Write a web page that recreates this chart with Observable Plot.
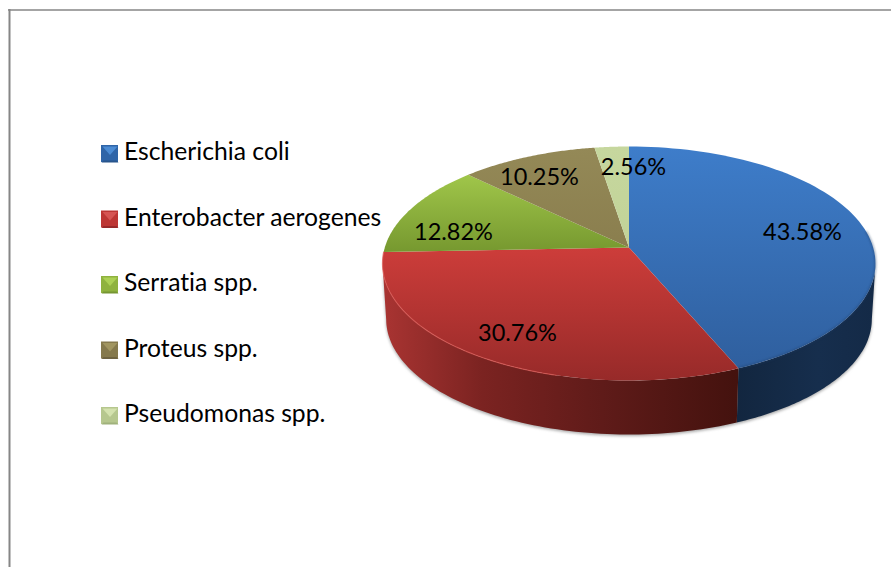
<!DOCTYPE html>
<html>
<head>
<meta charset="utf-8">
<style>html,body{margin:0;padding:0;background:#fff}svg{display:block}svg text{font-variant-ligatures:none}</style>
<script src="https://cdn.jsdelivr.net/npm/d3@7"></script>
<script src="https://cdn.jsdelivr.net/npm/@observablehq/plot@0.6"></script>
</head>
<body>
<div id="chart"></div>
<script>
// ---- data ----
const categories = ["Escherichia coli","Enterobacter aerogenes","Serratia spp.","Proteus spp.","Pseudomonas spp."];
const percents = [43.58,30.76,12.82,10.25,2.56];
const percentLabels = ["43.58%","30.76%","12.82%","10.25%","2.56%"];

// ---- layout & style ----
const labelX = [802,517,453,539,633];
const labelY = [232,333,232,177,167];
const topStops = [["#3e7dca","#2f5f9e"],["#cd3d3a","#972a29"],["#a0c64a","#76982f"],["#948957","#8a7e4e"],["#c6d79e","#c2d398"]];
const markerBase = ["#2f65a8","#bd3634","#8fb23e","#85794c","#b6c78e"];
const markerLight = ["#4c8cd4","#d65553","#acd054","#a19560","#d4e2ae"];
const markerDark = ["#28558c","#97292a","#769632","#6e6341","#a0b27c"];
const cx = 628.5, cy = 247, a = 244.2, b = 114.8, k = 0.1367;
const depth = {cy: 303, s: 0.985};
const legendX = 101, legendY0 = 145, legendStep = 65.5, markerSize = 17;

// ---- geometry ----
const total = d3.sum(percents);
const cum = d3.cumsum(percents);
const angleAt = f => f / total * 2 * Math.PI;
function topPt(th){const w=1+k*Math.cos(th);return {x:cx+a*Math.sin(th)/w,y:cy-b*Math.cos(th)/w};}
function botPt(th){const w=1+k*Math.cos(th);return {x:cx+depth.s*a*Math.sin(th)/w,y:depth.cy-depth.s*b*Math.cos(th)/w};}
function arc(f,t0,t1,n=80){return d3.range(n+1).map(i=>f(t0+(t1-t0)*i/n));}
const starts = percents.map((_,i)=>i?angleAt(cum[i-1]):0);
const ends = percents.map((_,i)=>i===percents.length-1?2*Math.PI:angleAt(cum[i]));
const slices = percents.map((_,i)=>[{x:cx,y:cy},...arc(topPt,starts[i],ends[i])]);
const rad = Math.PI/180;
const silR = 98*rad, silL = 262*rad;
const sideBlue = [...arc(topPt,silR,ends[0]),...arc(botPt,ends[0],silR)];
const sideRed = [...arc(topPt,ends[0],silL),...arc(botPt,silL,ends[0])];
const shadow = [...arc(topPt,silR,silL,120),...arc(botPt,silL,silR,120)].map(p=>({x:p.x,y:p.y+1.5}));
const rimRed = arc(topPt,195*rad,ends[1]);
const rimBlue = arc(topPt,82*rad,ends[0]);

const markerPolys = categories.flatMap((_,i)=>{
  const x0=legendX,x1=legendX+markerSize,y0=legendY0+i*legendStep,y1=y0+markerSize,mx=(x0+x1)/2,my=(y0+y1)/2;
  return [
    {fill:markerLight[i],pts:[{x:x0+1,y:y0+1},{x:x1-1,y:y0+1},{x:mx,y:my+1}]},
    {fill:markerDark[i],pts:[{x:x0,y:y1},{x:x1,y:y1},{x:x1-2,y:y1-2},{x:x0+2,y:y1-2}]}
  ];
});
const legendRows = categories.map((c,i)=>({c,i}));

const poly = (pts,o)=>Plot.line(pts,{x:"x",y:"y",stroke:"none",...o});
const fontFamily = "Lato, Carlito, sans-serif";

const defs = () => {
  const ns="http://www.w3.org/2000/svg";
  const d=document.createElementNS(ns,"defs");
  const grad=(id,stops,attrs)=>{
    const g=document.createElementNS(ns,"linearGradient");
    g.setAttribute("id",id);
    Object.entries(attrs).forEach(([k,v])=>g.setAttribute(k,v));
    stops.forEach(([o,c])=>{const s=document.createElementNS(ns,"stop");s.setAttribute("offset",o);s.setAttribute("stop-color",c);g.appendChild(s);});
    d.appendChild(g);
  };
  topStops.forEach((s,i)=>grad("top"+i,[[0,s[0]],[1,s[1]]],{x1:0,y1:0,x2:0,y2:1}));
  grad("sideRed",[[0,"#a93432"],[0.28,"#7b2321"],[0.62,"#5f1b19"],[1,"#44120e"]],{gradientUnits:"userSpaceOnUse",x1:383,x2:736,y1:0,y2:0});
  grad("sideBlue",[[0,"#12263f"],[0.6,"#162e4d"],[1,"#142a47"]],{gradientUnits:"userSpaceOnUse",x1:736,x2:872,y1:0,y2:0});
  return d;
};

const chart = Plot.plot({
  width:891,height:567,margin:0,
  x:{domain:[0,891],range:[0,891],axis:null},
  y:{domain:[0,567],range:[0,567],axis:null},
  style:{background:"#fff"},
  marks:[
    defs,
    Plot.ruleX([9],{y1:9,y2:567,stroke:"#868686",strokeWidth:2}),
    Plot.ruleY([9.5],{x1:8,x2:891,stroke:"#868686",strokeWidth:1.5}),
    poly(shadow,{fill:"#a8a8a8",imageFilter:"blur(1.5px)"}),
    poly(sideBlue,{fill:"url(#sideBlue)"}),
    poly(sideRed,{fill:"url(#sideRed)"}),
    ...slices.map((s,i)=>poly(s,{fill:`url(#top${i})`})),
    poly(rimBlue,{stroke:"#1d3c66",strokeWidth:1.5,strokeOpacity:0.55,fill:"none",imageFilter:"blur(0.8px)"}),
    poly(rimRed,{stroke:"#dc5a55",strokeWidth:1.2,strokeOpacity:0.7,fill:"none",imageFilter:"blur(0.4px)"}),
    Plot.text(percentLabels,{x:(_,i)=>labelX[i],y:(_,i)=>labelY[i],text:d=>d,fontSize:23.5,fontFamily,fill:"#000",textAnchor:"middle",lineAnchor:"middle"}),
    Plot.rect(legendRows,{x1:legendX,x2:legendX+markerSize,y1:d=>legendY0+d.i*legendStep,y2:d=>legendY0+d.i*legendStep+markerSize,fill:d=>markerBase[d.i]}),
    ...markerPolys.map(m=>poly(m.pts,{fill:m.fill})),
    Plot.text(legendRows,{x:123.5,y:d=>legendY0+d.i*legendStep+7,text:"c",fontSize:24.7,fontFamily,fill:"#000",textAnchor:"start",lineAnchor:"middle"})
  ]
});
chart.style.fontFamily = fontFamily;
document.getElementById("chart").appendChild(chart);
</script>
</body>
</html>
